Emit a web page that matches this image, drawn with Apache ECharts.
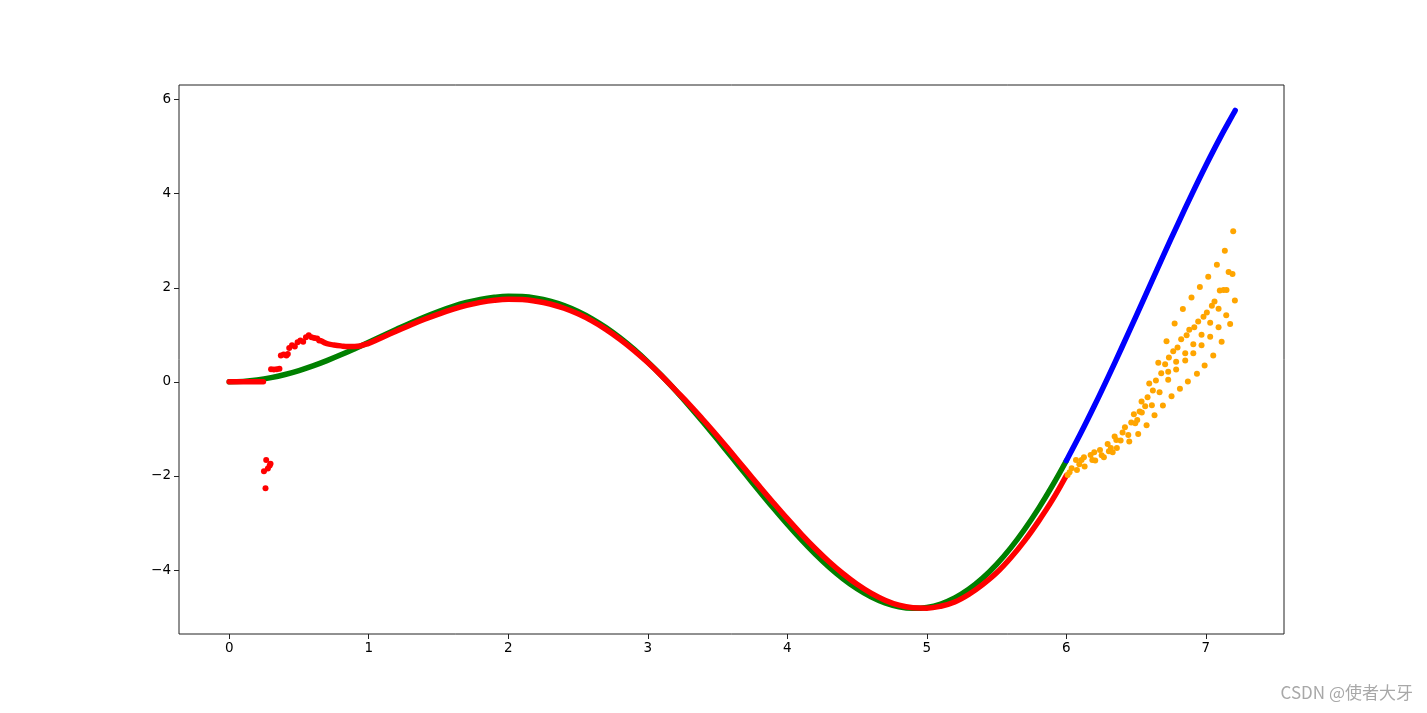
<!DOCTYPE html>
<html>
<head>
<meta charset="utf-8">
<script src="https://cdn.jsdelivr.net/npm/echarts@6/dist/echarts.min.js"></script>
<style>
  html, body { margin: 0; padding: 0; background: #fff; }
  #chart { width: 1427px; height: 713px; }
</style>
</head>
<body>
<div id="chart"></div>
<script>
// ---- tick labels ----
const xTicks = [0, 1, 2, 3, 4, 5, 6, 7];
const yTicks = [-4, -2, 0, 2, 4, 6];

// ---- true curve, training part (green) ----
const trainX = [0,0.1,0.2,0.3,0.4,0.5,0.6,0.7,0.8,0.9,1.0,1.1,1.2,1.3,1.4,1.5,1.6,1.7,1.8,1.9,2.0,2.1,2.2,2.3,2.4,2.5,2.6,2.7,2.8,2.9,3.0,3.1,3.2,3.3,3.4,3.5,3.6,3.7,3.8,3.9,4.0,4.1,4.2,4.3,4.4,4.5,4.6,4.7,4.8,4.9,5.0,5.1,5.2,5.3,5.4,5.5,5.6,5.7,5.8,5.9,6.0];
const trainTrue = [0,0.010,0.040,0.089,0.156,0.240,0.339,0.451,0.574,0.705,0.841,0.980,1.118,1.253,1.380,1.496,1.599,1.686,1.753,1.798,1.819,1.813,1.779,1.715,1.621,1.496,1.340,1.154,0.938,0.694,0.423,0.129,-0.187,-0.521,-0.869,-1.228,-1.593,-1.960,-2.325,-2.682,-3.027,-3.355,-3.661,-3.940,-4.187,-4.399,-4.571,-4.700,-4.782,-4.814,-4.795,-4.722,-4.594,-4.411,-4.173,-3.880,-3.535,-3.139,-2.695,-2.206,-1.676];

// ---- true curve, test part (blue) ----
const testX = [6.0,6.1,6.2,6.3,6.4,6.5,6.6,6.7,6.8,6.9,7.0,7.1,7.2,7.21];
const testTrue = [-1.676,-1.111,-0.515,0.106,0.746,1.398,2.056,2.713,3.360,3.991,4.599,5.176,5.714,5.770];

// ---- prediction on training range (red) ----
const predFlatX = [0, 0.245];
const predFlatY = [0, 0];
const predX = [0.66,0.70,0.75,0.80,0.85,0.90,1.0,1.1,1.2,1.3,1.4,1.5,1.6,1.7,1.8,1.9,2.0,2.1,2.2,2.3,2.4,2.5,2.6,2.7,2.8,2.9,3.0,3.1,3.2,3.3,3.4,3.5,3.6,3.7,3.8,3.9,4.0,4.1,4.2,4.3,4.4,4.5,4.6,4.7,4.8,4.9,5.0,5.1,5.2,5.3,5.4,5.5,5.6,5.7,5.8,5.9,6.0];
const predY = [0.87,0.81,0.785,0.765,0.75,0.75,0.82,0.95,1.08,1.21,1.33,1.44,1.54,1.625,1.69,1.735,1.755,1.75,1.715,1.655,1.565,1.445,1.295,1.115,0.905,0.67,0.41,0.125,-0.18,-0.487,-0.816,-1.155,-1.509,-1.865,-2.22,-2.569,-2.909,-3.235,-3.541,-3.824,-4.079,-4.303,-4.492,-4.642,-4.747,-4.80,-4.81,-4.77,-4.68,-4.52,-4.31,-4.06,-3.745,-3.38,-2.965,-2.51,-1.99];
const predNoiseX = [0.265,0.249,0.277,0.290,0.296,0.260,0.30,0.32,0.34,0.36,0.37,0.39,0.41,0.42,0.43,0.45,0.47,0.49,0.51,0.53,0.55,0.57,0.59,0.61,0.63,0.645];
const predNoiseY = [-1.66,-1.90,-1.84,-1.78,-1.74,-2.26,0.27,0.26,0.27,0.28,0.56,0.58,0.56,0.59,0.72,0.78,0.75,0.84,0.88,0.85,0.95,0.99,0.95,0.93,0.92,0.88];

// ---- prediction on test range (orange) ----
const extraX = [7.196,7.136,7.079,7.163,7.191,7.017,6.957,7.100,7.127,7.148,6.897,7.062,7.208,7.043,6.835,7.091,7.007,7.146,6.983,6.945,6.776,7.031,7.174,6.917,7.091,6.881,6.969,6.862,7.031,6.823,6.718,7.113,6.910,6.969,6.797,6.766,6.852,6.910,6.735,6.659,6.708,6.787,7.053,6.852,6.991,6.680,6.730,6.787,6.936,6.642,6.594,6.730,6.871,6.620,6.668,6.814,6.582,6.754,6.539,6.613,6.565,6.692,6.525,6.541,6.484,6.632,6.465,6.508,6.494,6.575,6.403,6.420,6.444,6.515,6.346,6.358,6.389,6.451,6.296,6.319,6.305,6.362,6.241,6.253,6.269,6.332,6.200,6.174,6.186,6.207,6.126,6.109,6.131,6.069,6.093,6.076,6.038,6.023,6.009];
const extraY = [3.199,2.787,2.489,2.333,2.291,2.234,2.014,1.943,1.950,1.950,1.794,1.709,1.730,1.617,1.546,1.553,1.475,1.418,1.383,1.284,1.241,1.255,1.227,1.163,1.163,1.106,1.000,0.993,0.957,0.908,0.865,0.851,0.801,0.780,0.730,0.652,0.610,0.610,0.518,0.404,0.376,0.426,0.560,0.454,0.348,0.184,0.213,0.262,0.170,0.028,-0.035,0.043,0.007,-0.184,-0.220,-0.149,-0.326,-0.305,-0.418,-0.496,-0.518,-0.504,-0.631,-0.652,-0.688,-0.709,-0.865,-0.809,-0.879,-0.922,-1.078,-0.965,-1.128,-1.106,-1.163,-1.234,-1.248,-1.270,-1.319,-1.404,-1.475,-1.404,-1.447,-1.560,-1.603,-1.496,-1.496,-1.553,-1.660,-1.674,-1.603,-1.660,-1.801,-1.660,-1.752,-1.872,-1.837,-1.922,-1.979];

const zip = (xs, ys) => xs.map((x, i) => [x, ys[i]]);
const fmt = v => String(v).replace('-', '\u2212');

const chart = echarts.init(document.getElementById('chart'), null, { renderer: 'canvas' });

const bandWidth = 5.5;
const dot = 6;

chart.setOption({
  animation: false,
  backgroundColor: '#ffffff',
  grid: {
    left: 179, right: 143, top: 85, bottom: 79,
    show: true, borderColor: '#222', borderWidth: 1, backgroundColor: 'transparent'
  },
  xAxis: {
    type: 'value', min: -0.36, max: 7.56,
    axisLine: { show: false, onZero: false },
    splitLine: { show: false },
    axisTick: { show: true, length: 5, lineStyle: { color: '#222' }, customValues: xTicks },
    axisLabel: { show: true, margin: 7, color: '#000', fontSize: 13.5, fontFamily: 'DejaVu Sans', customValues: xTicks, formatter: fmt }
  },
  yAxis: {
    type: 'value', min: -5.36, max: 6.31,
    axisLine: { show: false, onZero: false },
    splitLine: { show: false },
    axisTick: { show: true, length: 5, lineStyle: { color: '#222' }, customValues: yTicks },
    axisLabel: { show: true, margin: 8, color: '#000', fontSize: 13.5, fontFamily: 'DejaVu Sans', customValues: yTicks, formatter: fmt }
  },
  graphic: [{
    type: 'text', right: 14, top: 684,
    style: { text: 'CSDN @使者大牙', fontSize: 17, fill: '#a8a8a8', fontFamily: '"Noto Sans CJK SC", "Noto Sans", sans-serif' }
  }],
  series: [
    { name: 'train true', type: 'line', data: zip(trainX, trainTrue), smooth: 0.4, showSymbol: false, symbol: 'none',
      lineStyle: { color: '#008000', width: bandWidth, cap: 'round', join: 'round' }, z: 2 },
    { name: 'test true', type: 'line', data: zip(testX, testTrue), smooth: 0.4, showSymbol: false, symbol: 'none',
      lineStyle: { color: '#0000ff', width: bandWidth, cap: 'round', join: 'round' }, z: 2 },
    { name: 'train pred flat', type: 'line', data: zip(predFlatX, predFlatY), showSymbol: false, symbol: 'none',
      lineStyle: { color: '#ff0000', width: bandWidth, cap: 'round' }, z: 3 },
    { name: 'train pred', type: 'line', data: zip(predX, predY), smooth: 0.4, showSymbol: false, symbol: 'none',
      lineStyle: { color: '#ff0000', width: bandWidth, cap: 'round', join: 'round' }, z: 3 },
    { name: 'train pred noise', type: 'scatter', data: zip(predNoiseX, predNoiseY), symbolSize: dot,
      itemStyle: { color: '#ff0000', opacity: 1 }, z: 3 },
    { name: 'test pred', type: 'scatter', data: zip(extraX, extraY), symbolSize: dot,
      itemStyle: { color: '#ffa500', opacity: 1 }, z: 4 }
  ]
});
</script>
</body>
</html>
